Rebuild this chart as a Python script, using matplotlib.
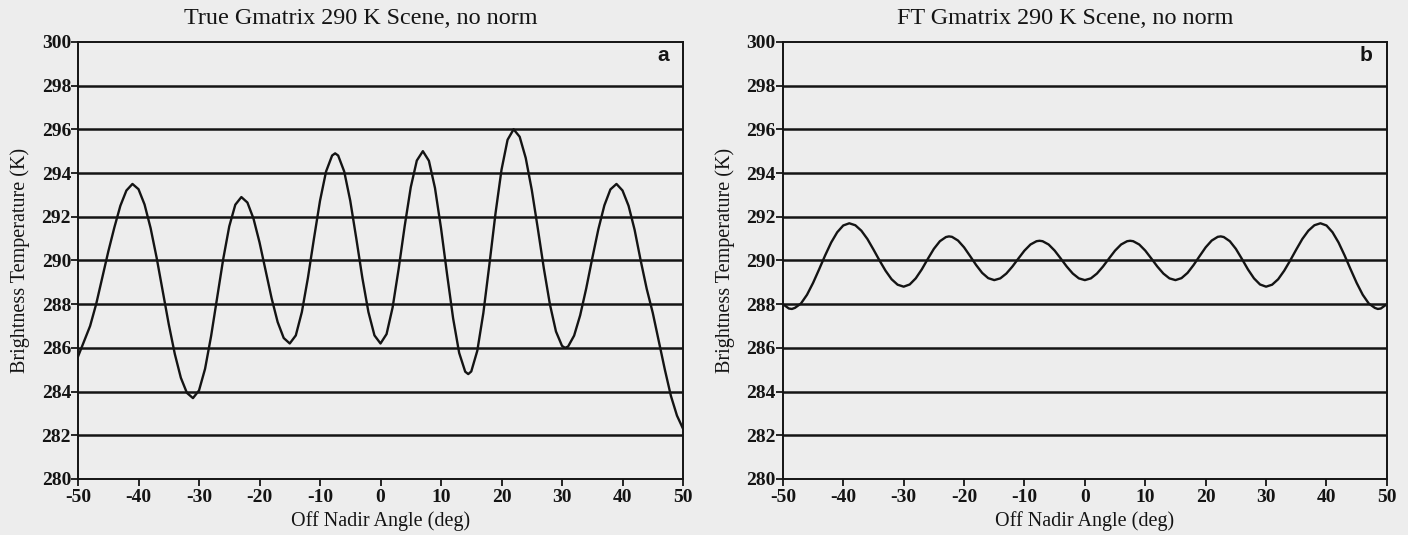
import numpy as np
import matplotlib
matplotlib.use("Agg")
from matplotlib import pyplot as plt

# aci degerleri (derece): 1 derece adim, tepe noktalarinda yarim dereceler eklendi
aci_a = np.sort(np.concatenate([np.arange(-50, 51, 1.0), [-7.5, 14.5, 30.5]]))
aci_b = np.sort(np.concatenate([np.arange(-50, 51, 1.0), [-48.5, -22.5, -7.5, 7.5, 22.5, 48.5]]))

# a paneli: gercek Gmatrix, 290 K sahne
sicaklik_a = [
    285.6, 286.3, 287.0, 288.0, 289.2, 290.4, 291.5, 292.5, 293.2, 293.5,
    293.26, 292.56, 291.48, 290.12, 288.6, 287.08, 285.72, 284.63, 283.94, 283.7,
    284.05, 285.04, 286.54, 288.3, 290.06, 291.56, 292.55, 292.9,
    292.65, 291.92, 290.83, 289.55, 288.27, 287.18, 286.45, 286.2,
    286.57, 287.64, 289.2, 291.0, 292.73, 294.07, 294.8, 294.9,
    294.8, 294.07, 292.73, 291.0, 289.2, 287.64, 286.57, 286.2,
    286.63, 287.85, 289.62, 291.58, 293.35, 294.57, 295.0,
    294.56, 293.32, 291.48, 289.37, 287.35, 285.77, 284.91, 284.8,
    284.92, 285.87, 287.6, 289.82, 292.14, 294.15, 295.52, 296.0,
    295.66, 294.69, 293.23, 291.46, 289.63, 287.99, 286.75, 286.09, 286.0,
    286.06, 286.56, 287.49, 288.72, 290.1, 291.42, 292.52, 293.25, 293.5,
    293.2, 292.5, 291.4, 290.0, 288.7, 287.6, 286.3, 285.0, 283.8, 282.9, 282.3,
]

# b paneli: FT Gmatrix, 290 K sahne
sicaklik_b = [
    288.0, 287.8, 287.78, 287.83, 288.03, 288.43, 288.97, 289.59, 290.23, 290.82, 291.29, 291.6,
    291.7, 291.61, 291.36, 290.98, 290.5, 290.0, 289.53, 289.14, 288.89, 288.8,
    288.9, 289.18, 289.59, 290.07, 290.53, 290.88, 291.07, 291.1,
    291.08, 290.91, 290.6, 290.2, 289.79, 289.43, 289.19, 289.1,
    289.18, 289.4, 289.72, 290.09, 290.45, 290.73, 290.88, 290.9,
    290.88, 290.73, 290.45, 290.09, 289.72, 289.4, 289.18, 289.1,
    289.18, 289.4, 289.72, 290.09, 290.45, 290.73, 290.88, 290.9, 290.88,
    290.73, 290.45, 290.09, 289.72, 289.4, 289.18, 289.1,
    289.19, 289.43, 289.79, 290.2, 290.6, 290.91, 291.08, 291.1,
    291.07, 290.88, 290.53, 290.07, 289.59, 289.18, 288.9, 288.8,
    288.89, 289.14, 289.53, 290.0, 290.5, 290.98, 291.36, 291.61, 291.7,
    291.6, 291.29, 290.82, 290.23, 289.59, 288.97, 288.43, 288.03, 287.83, 287.78, 287.8, 288.0,
]

basliklar = ["True Gmatrix 290 K Scene, no norm", "FT Gmatrix 290 K Scene, no norm"]
harfler = ["a", "b"]
y_isaretleri = np.arange(280, 301, 2)
x_isaretleri = np.arange(-50, 51, 10)

plt.rcParams['font.family'] = ['Liberation Serif', 'DejaVu Serif']
plt.rcParams['axes.unicode_minus'] = False  # eksi yerine tire
arka = '#ededed'
koyu = '#141414'

fig = plt.figure(figsize=(14.08, 5.35), dpi=100, facecolor=arka)
konumlar = [[0.0554, 0.1047, 0.4297, 0.817], [0.556, 0.1047, 0.429, 0.817]]

for konum, x, veri, baslik, harf in zip(konumlar, [aci_a, aci_b], [sicaklik_a, sicaklik_b], basliklar, harfler):
    ax = fig.add_axes(konum)
    ax.set_facecolor(arka)
    for y in y_isaretleri[1:-1]:
        ax.axhline(y, color=koyu, linewidth=1.8, zorder=1)
    ax.plot(x, veri, color=koyu, linewidth=1.7, zorder=2)
    ax.set_xlim(-50, 50)
    ax.set_ylim(280, 300)
    ax.set_xticks(x_isaretleri)
    ax.set_yticks(y_isaretleri)
    ax.tick_params(direction='out', length=5, width=1.3, labelsize=14, colors=koyu)
    ax.tick_params(axis='x', pad=2)
    ax.tick_params(axis='y', pad=0)
    for etiket in ax.get_xticklabels() + ax.get_yticklabels():
        etiket.set_fontweight('bold')
    for s in ax.spines.values():
        s.set_linewidth(1.4)
        s.set_color(koyu)
    ax.set_title(baslik, fontsize=17.4, pad=13, color=koyu, x=0.467)
    ax.set_xlabel("Off Nadir Angle (deg)", fontsize=14.5, labelpad=4, color=koyu)
    ax.set_ylabel("Brightness Temperature (K)", fontsize=14.5, labelpad=8, color=koyu)
    ax.text(0.976, 0.97, harf, transform=ax.transAxes, ha='right', va='center',
            fontsize=15, family='Liberation Sans', fontweight='bold', color=koyu)

plt.savefig('out.png', dpi=100, facecolor=arka)
